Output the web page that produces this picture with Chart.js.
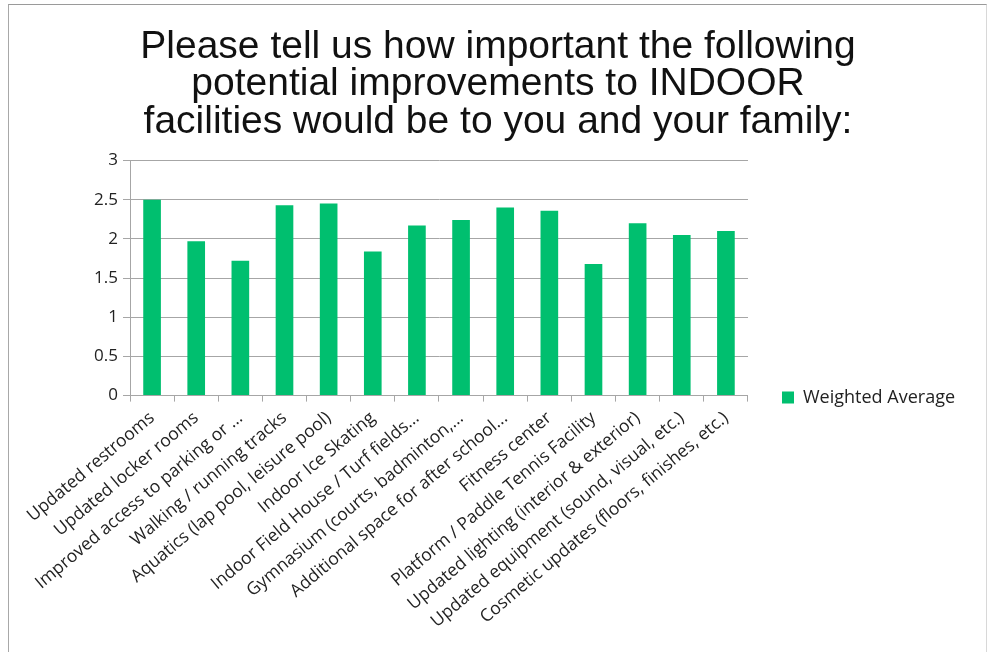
<!DOCTYPE html>
<html>
<head>
<meta charset="utf-8">
<script src="https://cdn.jsdelivr.net/npm/chart.js@4.4.1/dist/chart.umd.min.js"></script>
<style>
  html, body { margin: 0; padding: 0; background: #fff; }
  #wrap { position: relative; width: 987px; height: 652px; }
  #frame { position: absolute; left: 8px; top: 4px; width: 977px; height: 660px;
           border-left: 1px solid #a8a8a8; border-top: 1px solid #9a9a9a; border-right: 1px solid #d8d8d8;
           pointer-events: none; }
  canvas { position: absolute; left: 0; top: 0; }
</style>
</head>
<body>
<div id="wrap">
  <canvas id="c" width="987" height="652"></canvas>
  <div id="frame"></div>
</div>
<script>
const titleLines = [
  "Please tell us how important the following",
  "potential improvements to INDOOR",
  "facilities would be to you and your family:"
];
const categories = [
  "Updated restrooms",
  "Updated locker rooms",
  "Improved access to parking or ...",
  "Walking / running tracks",
  "Aquatics (lap pool, leisure pool)",
  "Indoor Ice Skating",
  "Indoor Field House / Turf fields...",
  "Gymnasium (courts, badminton,...",
  "Additional space for after school...",
  "Fitness center",
  "Platform / Paddle Tennis Facility",
  "Updated lighting (interior & exterior)",
  "Updated equipment (sound, visual, etc.)",
  "Cosmetic updates (floors, finishes, etc.)"
];
const seriesName = "Weighted Average";
const weightedAverage = [2.50, 1.97, 1.72, 2.43, 2.45, 1.84, 2.17, 2.24, 2.40, 2.36, 1.68, 2.20, 2.05, 2.10];
const yMin = 0, yMax = 3, yStep = 0.5;

const gridColor = '#a6a6a6';
const legendPad = 56;

const legendPlacer = {
  id: 'legendPlacer',
  afterLayout(chart) {
    const L = chart.legend;
    if (!L) return;
    const w = L.right - L.left;
    L.left = 782 - legendPad; L.right = L.left + w;
    const cy = chart.chartArea.bottom + 2;
    L.top = cy - 60; L.bottom = cy + 60; L.height = 120;
  }
};

new Chart(document.getElementById('c'), {
  type: 'bar',
  data: {
    labels: categories,
    datasets: [{
      label: seriesName,
      data: weightedAverage,
      backgroundColor: '#00BF6F',
      borderWidth: 0,
      categoryPercentage: 1.0,
      barPercentage: 0.4
    }]
  },
  plugins: [legendPlacer],
  options: {
    responsive: false,
    animation: false,
    devicePixelRatio: 1,
    layout: { padding: { left: 9, right: 0, top: 0, bottom: 14 } },
    plugins: {
      title: {
        display: true,
        text: titleLines,
        font: { family: 'Liberation Sans', size: 39, weight: 'normal', lineHeight: 0.97 },
        color: '#111',
        padding: { top: 28, bottom: 19 }
      },
      legend: {
        position: 'right',
        labels: {
          boxWidth: 12, boxHeight: 12,
          font: { family: 'Open Sans', size: 18 },
          color: '#222',
          padding: legendPad
        }
      },
      tooltip: { enabled: false }
    },
    scales: {
      x: {
        grid: { offset: true, drawOnChartArea: false, tickLength: 6, color: gridColor },
        border: { color: gridColor },
        ticks: {
          autoSkip: false, minRotation: 40, maxRotation: 40,
          font: { family: 'Open Sans', size: 17.5 }, color: '#222', padding: 6
        }
      },
      y: {
        min: yMin, max: yMax,
        afterFit(scale) { scale.width = 121; },
        grid: { color: gridColor, tickLength: 7 },
        border: { color: gridColor },
        ticks: {
          stepSize: yStep,
          callback: (v) => String(v),
          font: { family: 'Open Sans', size: 17 }, color: '#222', padding: 5
        }
      }
    }
  }
});
</script>
</body>
</html>
